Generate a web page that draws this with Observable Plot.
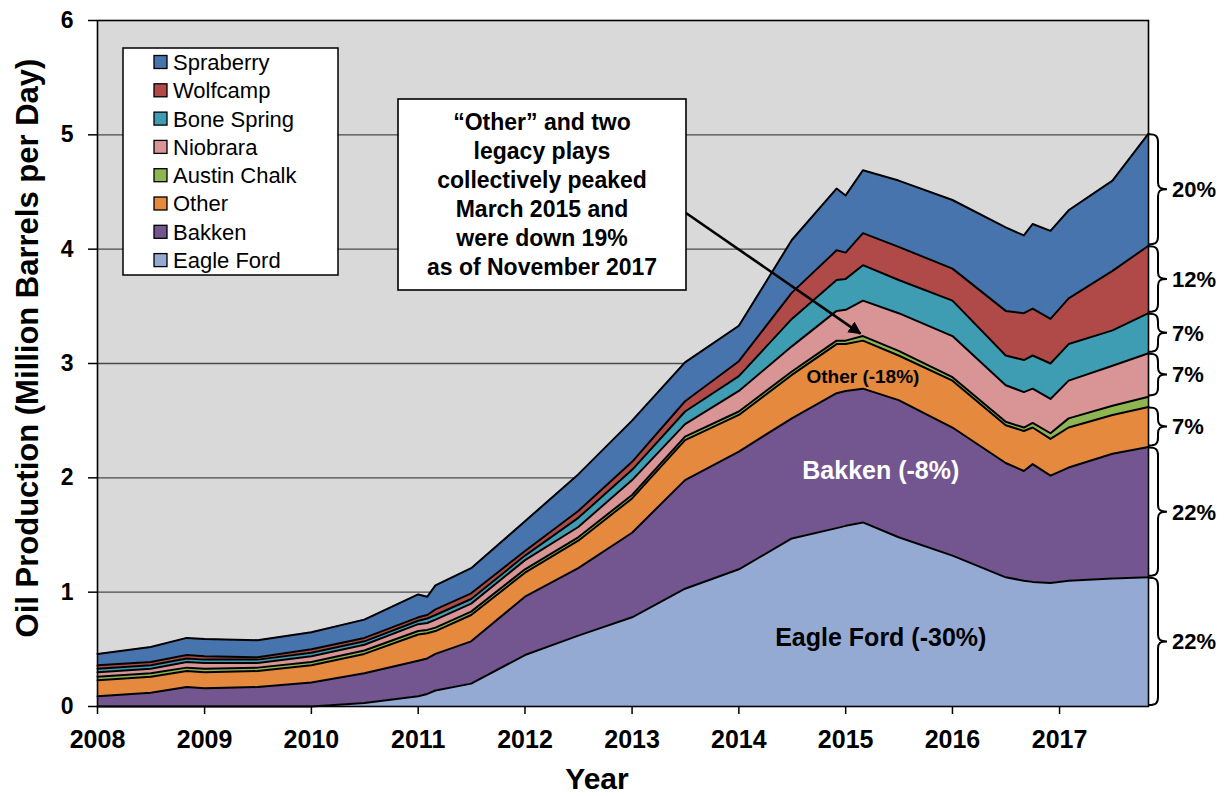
<!DOCTYPE html>
<html><head><meta charset="utf-8">
<script src="https://cdn.jsdelivr.net/npm/d3@7"></script>
<script src="https://cdn.jsdelivr.net/npm/@observablehq/plot@0.6"></script>
<style>body{margin:0;background:#fff} #chart svg{display:block}</style>
</head><body><div id="chart"></div>
<script>
// ---------------- data ----------------
const months = ["2008-01","2008-07","2008-11","2009-01","2009-07","2010-01","2010-07","2011-01","2011-02","2011-03","2011-07","2012-01","2012-07","2013-01","2013-07","2014-01","2014-07","2014-12","2015-01","2015-03","2015-07","2016-01","2016-07","2016-09","2016-10","2016-12","2017-02","2017-07","2017-11"];
const eagleFord   = [0,0,0,0,0,0,.03,.09,.11,.14,.20,.45,.62,.78,1.03,1.20,1.47,1.56,1.58,1.61,1.48,1.32,1.13,1.10,1.09,1.08,1.10,1.12,1.13];
const bakken      = [.09,.12,.17,.16,.17,.21,.26,.31,.31,.32,.37,.51,.59,.74,.95,1.03,1.05,1.18,1.18,1.17,1.20,1.12,1.00,.96,1.03,.94,.99,1.09,1.14];
const other       = [.14,.14,.14,.14,.14,.15,.17,.23,.22,.20,.23,.21,.24,.30,.35,.32,.38,.43,.41,.42,.39,.41,.33,.35,.32,.32,.35,.34,.35];
const austinChalk = [.03,.03,.03,.03,.03,.03,.03,.03,.03,.03,.03,.03,.03,.03,.03,.03,.03,.03,.03,.04,.04,.03,.03,.03,.04,.05,.08,.08,.09];
const niobrara    = [.04,.04,.05,.05,.04,.05,.05,.06,.06,.07,.07,.08,.09,.13,.11,.18,.22,.26,.27,.31,.33,.36,.32,.31,.30,.30,.33,.35,.38];
const boneSpring  = [.03,.03,.03,.03,.03,.03,.03,.03,.04,.04,.04,.04,.08,.09,.11,.13,.24,.27,.27,.31,.29,.31,.26,.28,.29,.31,.32,.31,.35];
const wolfcamp    = [.03,.03,.03,.03,.02,.03,.03,.03,.03,.05,.05,.04,.06,.07,.09,.13,.23,.26,.23,.28,.29,.28,.39,.41,.41,.39,.40,.52,.59];
const spraberry   = [.10,.13,.15,.15,.15,.15,.16,.20,.16,.21,.22,.26,.32,.36,.34,.31,.46,.54,.50,.55,.58,.60,.73,.68,.74,.77,.77,.79,.98];

const seriesNames  = ["Spraberry","Wolfcamp","Bone Spring","Niobrara","Austin Chalk","Other","Bakken","Eagle Ford"];
const seriesColors = ["#4774ac","#b04a48","#3f9db3","#d99496","#8db653","#e4893d","#73568f","#94aad3"];
const seriesValues = [spraberry, wolfcamp, boneSpring, niobrara, austinChalk, other, bakken, eagleFord];

const yTicks = [0,1,2,3,4,5,6];
const xTickYears = [2008,2009,2010,2011,2012,2013,2014,2015,2016,2017];

const braceSeries = ["Eagle Ford","Bakken","Other","Niobrara","Bone Spring","Wolfcamp","Spraberry"];
const braceLabels = ["22%","22%","7%","7%","7%","12%","20%"];

const areaLabels = [
  {label: "Other (-18%)", month: "2015-03", value: 2.88, color: "black", size: 19},
  {label: "Bakken (-8%)", month: "2015-05", value: 2.06, color: "white", size: 25},
  {label: "Eagle Ford (-30%)", month: "2015-05", value: 0.60, color: "black", size: 25}
];
const noteLines = ["\u201cOther\u201d and two","legacy plays","collectively peaked","March 2015 and","were down 19%","as of November 2017"];
const notePeakMonth = "2015-03";
const yTitle = "Oil Production (Million Barrels per Day)";
const xTitle = "Year";

// ---------------- build ----------------
const parse = d3.utcParse("%Y-%m");
const stackOrder = seriesNames.slice().reverse(); // bottom to top
const valuesBySeries = Object.fromEntries(seriesNames.map((s, i) => [s, seriesValues[i]]));
const rows = stackOrder.flatMap(s => months.map((m, i) => ({date: parse(m), series: s, value: valuesBySeries[s][i]})));
const font = "'Liberation Sans', Arial, Helvetica, sans-serif";

function textMark(d) {
  return Plot.text([d], {x: dd => parse(dd.month), y: "value", text: "label", fill: d.color, fontSize: d.size, fontWeight: "bold"});
}

const chart = Plot.plot({
  width: 1225, height: 796,
  marginLeft: 97, marginRight: 77, marginTop: 20, marginBottom: 90,
  style: {fontFamily: font, fontWeight: "bold", color: "black", background: "white", overflow: "visible"},
  x: {type: "utc", domain: [parse(months[0]), parse(months[months.length - 1])]},
  y: {domain: [0, 6]},
  color: {domain: seriesNames, range: seriesColors},
  marks: [
    Plot.frame({fill: "#d9d9d9", stroke: null}),
    Plot.ruleY(yTicks.slice(1, -1), {stroke: "#4a4a4a", strokeWidth: 1.3}),
    Plot.areaY(rows, {x: "date", y: "value", z: "series", fill: "series", order: stackOrder}),
    Plot.lineY(rows, Plot.stackY2({x: "date", y: "value", z: "series", order: stackOrder, stroke: "black", strokeWidth: 2})),
    Plot.frame({stroke: "black", strokeWidth: 1.6}),
    Plot.axisY({ticks: yTicks, tickSize: 9, tickPadding: 15, fontSize: 23, fontWeight: "bold", label: null, tickFormat: d => String(d), strokeWidth: 1.5}),
    Plot.axisX({ticks: xTickYears.map(y => new Date(Date.UTC(y, 0, 1))), tickSize: 8, tickPadding: 16, fontSize: 25, fontWeight: "bold", label: null, tickFormat: d3.utcFormat("%Y"), strokeWidth: 1.5}),
    ...areaLabels.map(textMark)
  ]
});
document.getElementById("chart").appendChild(chart);

// ---------------- decorations ----------------
const xs = chart.scale("x"), ys = chart.scale("y");
const svg = d3.select(chart);

// axis titles
svg.append("text").attr("transform", "translate(27,348) rotate(-90)").attr("text-anchor", "middle").attr("dy", "0.35em")
  .attr("font-family", font).attr("font-weight", "bold").attr("font-size", 31).attr("fill", "black").text(yTitle);
svg.append("text").attr("x", 597).attr("y", 789).attr("text-anchor", "middle")
  .attr("font-family", font).attr("font-weight", "bold").attr("font-size", 30).attr("fill", "black").text(xTitle);

// legend
const lg = svg.append("g").attr("font-family", font).attr("text-anchor", "start");
lg.append("rect").attr("x", 123).attr("y", 48).attr("width", 215).attr("height", 227)
  .attr("fill", "white").attr("stroke", "black").attr("stroke-width", 1.5);
seriesNames.forEach((s, i) => {
  const cy = 62 + i * 28.3;
  lg.append("rect").attr("x", 154).attr("y", cy - 6.5).attr("width", 13).attr("height", 13)
    .attr("fill", seriesColors[i]).attr("stroke", "black").attr("stroke-width", 1.3);
  lg.append("text").attr("x", 173).attr("y", cy).attr("dy", "0.36em").attr("font-size", 22)
    .attr("text-anchor", "start").attr("font-weight", "normal").attr("fill", "black").text(s);
});

// note box with arrow
const nb = svg.append("g").attr("font-family", font);
nb.append("rect").attr("x", 398).attr("y", 99).attr("width", 288).attr("height", 191)
  .attr("fill", "white").attr("stroke", "black").attr("stroke-width", 1.6);
noteLines.forEach((t, i) => {
  nb.append("text").attr("x", 542).attr("y", 122 + i * 29).attr("dy", "0.36em").attr("text-anchor", "middle")
    .attr("font-size", 23).attr("font-weight", "bold").attr("fill", "black").text(t);
});
const pi = months.indexOf(notePeakMonth);
let peakTop = 0;
for (const s of stackOrder) { peakTop += valuesBySeries[s][pi]; if (s === "Austin Chalk") break; }
const ax = xs.apply(parse(notePeakMonth)), ay = ys.apply(peakTop);
svg.append("defs").append("marker").attr("id", "ah").attr("viewBox", "0 0 10 10").attr("refX", 9).attr("refY", 5)
  .attr("markerWidth", 5).attr("markerHeight", 5).attr("orient", "auto")
  .append("path").attr("d", "M0,0 L10,5 L0,10 z").attr("fill", "black");
svg.append("line").attr("x1", 686).attr("y1", 213).attr("x2", ax - 2).attr("y2", ay - 2)
  .attr("stroke", "black").attr("stroke-width", 2.6).attr("marker-end", "url(#ah)");

// braces with shares
const last = months.length - 1;
const cumTop = {};
let acc = 0;
for (const s of stackOrder) { const b = acc; acc += valuesBySeries[s][last]; cumTop[s] = [b, acc]; }
const x0 = xs.apply(parse(months[last])) + 1;
const bg = svg.append("g").attr("font-family", font).attr("text-anchor", "start");
braceSeries.forEach((s, i) => {
  const [lo, hi] = cumTop[s];
  const yt = ys.apply(hi) + 1, yb = ys.apply(lo) - 1, m = (yt + yb) / 2;
  const xv = x0 + 9, xt = x0 + 18;
  const d = `M${x0},${yt} C${x0+7},${yt} ${xv},${yt+2} ${xv},${yt+8} L${xv},${m-7} C${xv},${m-2} ${xv+2},${m} ${xt},${m} C${xv+2},${m} ${xv},${m+2} ${xv},${m+7} L${xv},${yb-8} C${xv},${yb-2} ${x0+7},${yb} ${x0},${yb}`;
  bg.append("path").attr("d", d).attr("fill", "none").attr("stroke", "black").attr("stroke-width", 2);
  bg.append("text").attr("x", 1172).attr("y", m).attr("dy", "0.36em").attr("font-size", 22)
    .attr("text-anchor", "start").attr("font-weight", "bold").attr("fill", "black").text(braceLabels[i]);
});
</script>
</body></html>
